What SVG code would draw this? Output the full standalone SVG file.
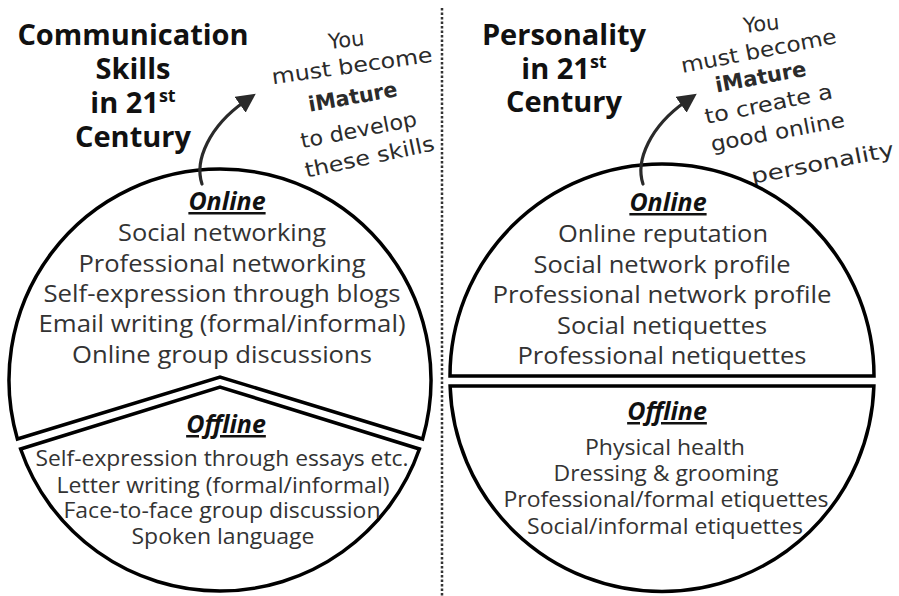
<svg xmlns="http://www.w3.org/2000/svg" width="899" height="596" viewBox="0 0 899 596">
<defs>
<style>
.title{font-family:"Open Sans","Liberation Sans",sans-serif;font-weight:700;font-size:29px;fill:#111;text-anchor:middle}
.head{font-family:"Open Sans","Liberation Sans",sans-serif;font-weight:700;font-style:italic;font-size:25px;fill:#111;text-anchor:middle;text-decoration:underline}
.item{font-family:"Open Sans","Liberation Sans",sans-serif;font-size:24px;fill:#333;text-anchor:middle}
.item2{font-family:"Open Sans","Liberation Sans",sans-serif;font-size:21.5px;fill:#333;text-anchor:middle}
.hand{font-family:"DejaVu Sans",sans-serif;font-size:21px;fill:#2b2b2b;text-anchor:middle}
.piece{fill:#fff;stroke:#000;stroke-width:3.5;stroke-linejoin:miter}
.arrow{fill:none;stroke:#2a2a2a;stroke-width:3.2;stroke-linecap:round}
</style>
<marker id="ah" markerWidth="6" markerHeight="6" refX="1.5" refY="3" orient="auto" markerUnits="strokeWidth">
<path d="M0,0 L6,3 L0,6 Z" fill="#2a2a2a"/>
</marker>
</defs>
<rect width="899" height="596" fill="#fff"/>
<line x1="442" y1="8" x2="442" y2="596" stroke="#333" stroke-width="2.5" stroke-dasharray="2.5 2"/>

<g id="left-title">
<text class="title" x="133" y="45">Communication</text>
<text class="title" x="133" y="79">Skills</text>
<text class="title" x="133" y="113">in 21<tspan font-size="18" dy="-11">st</tspan></text>
<text class="title" x="133" y="147">Century</text>
</g>
<g id="right-title">
<text class="title" x="564" y="45">Personality</text>
<text class="title" x="564" y="79">in 21<tspan font-size="18" dy="-11">st</tspan></text>
<text class="title" x="564" y="112">Century</text>
</g>

<g id="left-note">
<text class="hand" x="347" y="47" transform="rotate(-6 347 47)">You</text>
<text class="hand" x="353" y="73" textLength="162" lengthAdjust="spacingAndGlyphs" transform="rotate(-8 353 73)">must become</text>
<text class="hand" x="354" y="104" font-weight="700" textLength="90" lengthAdjust="spacingAndGlyphs" transform="rotate(-10 354 104)">iMature</text>
<text class="hand" x="360" y="137" textLength="118" lengthAdjust="spacingAndGlyphs" transform="rotate(-11 360 137)">to develop</text>
<text class="hand" x="371" y="164" textLength="132" lengthAdjust="spacingAndGlyphs" transform="rotate(-12 371 164)">these skills</text>
</g>
<g id="right-note">
<text class="hand" x="762" y="31" transform="rotate(-6 762 31)">You</text>
<text class="hand" x="760" y="58" textLength="158" lengthAdjust="spacingAndGlyphs" transform="rotate(-11 760 58)">must become</text>
<text class="hand" x="762" y="84" font-weight="700" textLength="92" lengthAdjust="spacingAndGlyphs" transform="rotate(-10.5 762 84)">iMature</text>
<text class="hand" x="770" y="111" textLength="130" lengthAdjust="spacingAndGlyphs" transform="rotate(-11.5 770 111)">to create a</text>
<text class="hand" x="779" y="139" textLength="136" lengthAdjust="spacingAndGlyphs" transform="rotate(-10.5 779 139)">good online</text>
<text class="hand" x="824" y="170" textLength="145" lengthAdjust="spacingAndGlyphs" transform="rotate(-11 824 170)">personality</text>
</g>

<g id="left-online">
<path class="piece" d="M17.4 439 A211 211 0 1 1 422.6 439 L220 377 Z"/>
<text class="head" x="227" y="210">Online</text>
<text class="item" x="222" y="241" textLength="208" lengthAdjust="spacingAndGlyphs">Social networking</text>
<text class="item" x="222" y="272" textLength="287" lengthAdjust="spacingAndGlyphs">Professional networking</text>
<text class="item" x="222" y="302" textLength="357" lengthAdjust="spacingAndGlyphs">Self-expression through blogs</text>
<text class="item" x="222" y="332" textLength="367" lengthAdjust="spacingAndGlyphs">Email writing (formal/informal)</text>
<text class="item" x="222" y="363" textLength="300" lengthAdjust="spacingAndGlyphs">Online group discussions</text>
</g>
<g id="left-offline">
<path class="piece" d="M20.6 449 L220 387 L419.4 449 A211 211 0 0 1 20.6 449 Z"/>
<text class="head" x="226" y="433">Offline</text>
<text class="item2" x="222" y="466" textLength="373" lengthAdjust="spacingAndGlyphs">Self-expression through essays etc.</text>
<text class="item2" x="223" y="493" textLength="333" lengthAdjust="spacingAndGlyphs">Letter writing (formal/informal)</text>
<text class="item2" x="222" y="518" textLength="317" lengthAdjust="spacingAndGlyphs">Face-to-face group discussion</text>
<text class="item2" x="223" y="544" textLength="183" lengthAdjust="spacingAndGlyphs">Spoken language</text>
</g>

<g id="right-online">
<path class="piece" d="M450 376 A212 212 0 0 1 874 376 Z"/>
<text class="head" x="668" y="211">Online</text>
<text class="item" x="663" y="242" textLength="210" lengthAdjust="spacingAndGlyphs">Online reputation</text>
<text class="item" x="662" y="273" textLength="257" lengthAdjust="spacingAndGlyphs">Social network profile</text>
<text class="item" x="662" y="303" textLength="339" lengthAdjust="spacingAndGlyphs">Professional network profile</text>
<text class="item" x="662" y="334" textLength="210" lengthAdjust="spacingAndGlyphs">Social netiquettes</text>
<text class="item" x="662" y="364" textLength="289" lengthAdjust="spacingAndGlyphs">Professional netiquettes</text>
</g>
<g id="right-offline">
<path class="piece" d="M450.1 386 L873.9 386 A212 212 0 0 1 450.1 386 Z"/>
<text class="head" x="667" y="420">Offline</text>
<text class="item2" x="665" y="455" textLength="160" lengthAdjust="spacingAndGlyphs">Physical health</text>
<text class="item2" x="666" y="481" textLength="225" lengthAdjust="spacingAndGlyphs">Dressing &amp; grooming</text>
<text class="item2" x="666" y="507" textLength="325" lengthAdjust="spacingAndGlyphs">Professional/formal etiquettes</text>
<text class="item2" x="665" y="534" textLength="276" lengthAdjust="spacingAndGlyphs">Social/informal etiquettes</text>
</g>

<g id="connectors">
<path class="arrow" d="M202 184 C194 160 210 126 244 102" marker-end="url(#ah)"/>
<path class="arrow" d="M643 184 C635 160 651 126 685 102" marker-end="url(#ah)"/>
</g>
</svg>
